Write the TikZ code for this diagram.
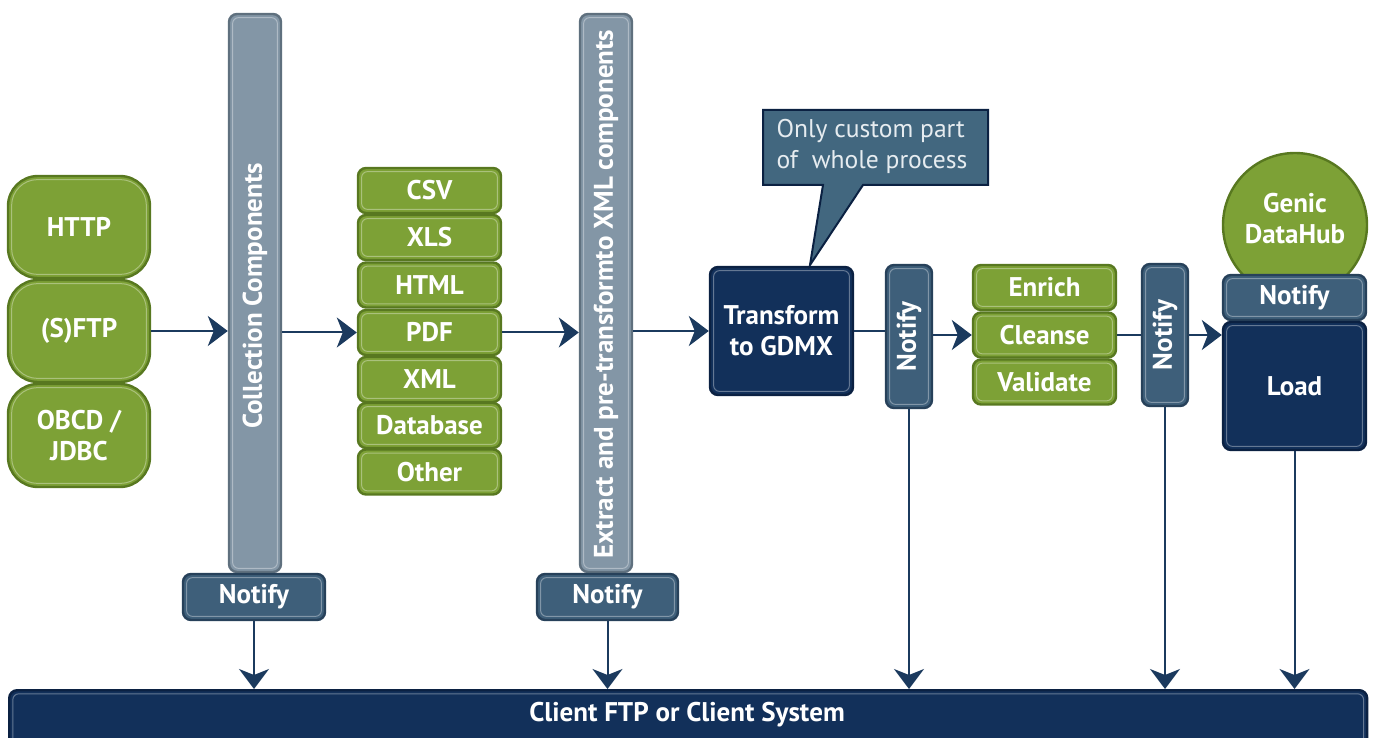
\documentclass[tikz,border=0pt]{standalone}
\usepackage{fontspec}
\setmainfont{PT Sans}
\usetikzlibrary{arrows.meta,calc}
\definecolor{grn}{HTML}{7DA136}
\definecolor{grnd}{HTML}{587820}
\definecolor{navy}{HTML}{12305A}
\definecolor{navyd}{HTML}{0B2142}
\definecolor{nblue}{HTML}{3E5F7A}
\definecolor{nblued}{HTML}{27415A}
\definecolor{gbar}{HTML}{8396A6}
\definecolor{gbard}{HTML}{5F707E}
\definecolor{arrc}{HTML}{1B3A5E}
\definecolor{callf}{HTML}{42677F}
\definecolor{callt}{HTML}{E6ECF0}
\tikzset{
  sz/.style 2 args={minimum width=#1*0.5pt, minimum height=#2*0.5pt, inner sep=0pt},
  hl/.style={path picture={\draw[white, opacity=0.35, line width=0.5pt, rounded corners=#1]
     ([shift={(1.8pt,1.8pt)}]path picture bounding box.south west) rectangle
     ([shift={(-1.8pt,-1.8pt)}]path picture bounding box.north east);}},
  lbl/.style={text=white, font=\fontsize{13.5}{15.5}\selectfont\bfseries, align=center},
  greenbox/.style={lbl, fill=grn, draw=grnd, line width=1.2pt, rounded corners=4pt, hl=3pt},
  protobox/.style={lbl, fill=grn, draw=grnd, line width=1.2pt, rounded corners=15pt, hl=13pt},
  navybox/.style={lbl, fill=navy, draw=navyd, line width=1.2pt, rounded corners=4pt, hl=3pt},
  notifybox/.style={lbl, fill=nblue, draw=nblued, line width=1.2pt, rounded corners=4pt, hl=3pt},
  barbox/.style={lbl, fill=gbar, draw=gbard, line width=1.2pt, rounded corners=4pt, hl=3pt},
  arr/.style={draw=arrc, line width=1pt, -{Stealth[length=10pt, width=15pt, inset=3pt]}},
  ln/.style={draw=arrc, line width=1pt},
}
\begin{document}
\begin{tikzpicture}[x=0.5pt, y=-0.5pt]
\clip (0,0) rectangle (1373,738);
\fill[white] (0,0) rectangle (1373,738);

% protocols
\node[protobox, sz={142}{102}] (http) at (79,227) {HTTP};
\node[protobox, sz={142}{102}] (sftp) at (79,331) {(S)FTP};
\node[protobox, sz={142}{103}] (obcd) at (79,435.5) {OBCD /\\JDBC};

% collection bar
\node[barbox, sz={52}{558}] (bar1) at (255,293) {};
\node[lbl, rotate=90] (bar1t) at (255,296) {Collection Components};
\node[notifybox, sz={142}{46}] (n1) at (254,597) {Notify};

% formats
\foreach \n/\t/\y in {csv/CSV/190.5, xls/XLS/237.5, html/HTML/285, pdf/PDF/332.5, xml/XML/379.5, db/Database/425.5, oth/Other/472}
  \node[greenbox, sz={143}{45}] (\n) at (429.5,\y) {\t};

% extract bar
\node[barbox, sz={52}{558}] (bar2) at (606,293) {};
\node[lbl, rotate=90] (bar2t) at (606,294) {Extract and pre-transformto XML components};
\node[notifybox, sz={141}{46}] (n2) at (607.5,597) {Notify};

% transform
\node[navybox, sz={143}{128}] (tr) at (781.5,331) {Transform\\to GDMX};

% callout
\fill[callf, draw=navyd, line width=1pt] (763,110) -- (988,110) -- (988,185) -- (863,185) -- (810,265) -- (823,185) -- (763,185) -- cycle;
\node[text=callt, font=\fontsize{12.8}{15.5}\selectfont, align=left] (call) at (872,146) {Only custom part\\of~ whole process};

% vertical notify 1
\node[notifybox, sz={46}{143}] (vn1) at (909,336.5) {};
\node[lbl, rotate=90] (vn1t) at (909,336.5) {Notify};

% enrich etc
\node[greenbox, sz={143}{45}] (enr) at (1044.5,287.5) {Enrich};
\node[greenbox, sz={143}{45}] (cle) at (1044.5,335) {Cleanse};
\node[greenbox, sz={143}{45}] (val) at (1044.5,382) {Validate};

% vertical notify 2
\node[notifybox, sz={46}{142}] (vn2) at (1165,335) {};
\node[lbl, rotate=90] (vn2t) at (1165,335) {Notify};

% genic datahub
\node[circle, fill=grn, draw=grnd, line width=1.2pt, minimum size=72pt, inner sep=0pt] (gen) at (1295,225) {};
\node[lbl] (gent) at (1295,219) {Genic\\DataHub};
\node[notifybox, sz={143}{45}] (n3) at (1294.5,297.5) {Notify};
\node[navybox, sz={143}{128}] (load) at (1294.5,386) {Load};

% bottom bar
\node[navybox, sz={1358}{90}, anchor=north west] (client) at (8,689) {};
\node[lbl] (clientt) at (687,715) {Client FTP or Client System};

% connectors
\draw[arr] (sftp.east) -- (sftp.east -| bar1.west);
\draw[arr] (bar1.east |- pdf) -- (pdf.west);
\draw[arr] (pdf.east) -- (pdf.east -| bar2.west);
\draw[arr] (bar2.east |- tr) -- (tr.west);
\draw[ln] (tr.east) -- (tr.east -| vn1.west);
\draw[arr] (vn1.east |- cle) -- (cle.west);
\draw[ln] (cle.east) -- (cle.east -| vn2.west);
\draw[arr] (vn2.east |- cle) -- (cle -| load.west);

\draw[arr] (n1.south) -- (n1.south |- client.north);
\draw[arr] (n2.south) -- (n2.south |- client.north);
\draw[arr] (vn1.south) -- (vn1.south |- client.north);
\draw[arr] (vn2.south) -- (vn2.south |- client.north);
\draw[arr] (load.south) -- (load.south |- client.north);
\end{tikzpicture}
\end{document}
